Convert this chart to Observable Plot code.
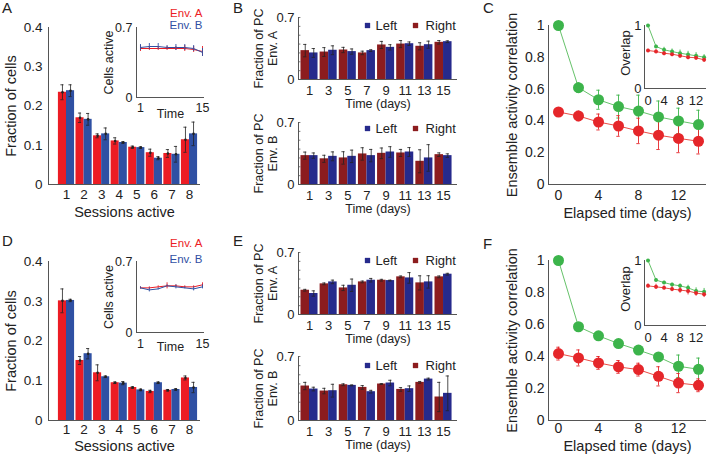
<!DOCTYPE html>
<html><head><meta charset="utf-8">
<script src="https://cdn.jsdelivr.net/npm/d3@7"></script>
<script src="https://cdn.jsdelivr.net/npm/@observablehq/plot@0.6"></script>
<style>
html,body{margin:0;padding:0;background:#fff;}
#fig{position:relative;width:708px;height:457px;overflow:hidden;font-family:'Liberation Sans',Arial,sans-serif;background:#fff;}
.letter{position:absolute;font-size:15px;line-height:15px;color:#222;}
</style></head><body><div id="fig"></div>
<script>
// ---------- data ----------
const sessions = [1,2,3,4,5,6,7,8];
const aEnvA    = [0.235,0.170,0.124,0.111,0.095,0.081,0.079,0.114];
const aEnvAErr = [0.019,0.012,0.005,0.008,0.003,0.009,0.010,0.032];
const aEnvB    = [0.239,0.166,0.129,0.107,0.094,0.067,0.077,0.129];
const aEnvBErr = [0.015,0.015,0.015,0.002,0.002,0.004,0.020,0.030];
const dEnvA    = [0.301,0.151,0.120,0.095,0.083,0.073,0.076,0.107];
const dEnvAErr = [0.030,0.010,0.020,0.002,0.002,0.003,0.002,0.005];
const dEnvB    = [0.302,0.168,0.110,0.094,0.077,0.095,0.078,0.083];
const dEnvBErr = [0.003,0.013,0.002,0.004,0.002,0.002,0.002,0.013];

const insetTimes = [1,3,5,7,9,11,13,15];
const aInsetA    = [0.49,0.49,0.49,0.49,0.49,0.49,0.48,0.46];
const aInsetAErr = [0.03,0.02,0.02,0.02,0.02,0.03,0.03,0.05];
const aInsetB    = [0.50,0.51,0.51,0.50,0.50,0.50,0.49,0.45];
const aInsetBErr = [0.03,0.03,0.03,0.02,0.03,0.03,0.03,0.04];
const dInsetA    = [0.44,0.44,0.45,0.46,0.46,0.45,0.45,0.47];
const dInsetAErr = [0.01,0.01,0.01,0.03,0.01,0.01,0.01,0.02];
const dInsetB    = [0.44,0.42,0.43,0.46,0.45,0.44,0.43,0.45];
const dInsetBErr = [0.01,0.02,0.01,0.01,0.02,0.01,0.02,0.02];

const days = [1,3,5,7,9,11,13,15];
const bARight    = [0.326,0.310,0.333,0.300,0.390,0.400,0.375,0.420];
const bARightErr = [0.070,0.050,0.030,0.020,0.040,0.040,0.040,0.020];
const bALeft     = [0.300,0.330,0.315,0.326,0.363,0.404,0.393,0.427];
const bALeftErr  = [0.050,0.050,0.030,0.010,0.030,0.020,0.040,0.010];
const bBRight    = [0.326,0.290,0.300,0.345,0.352,0.356,0.262,0.337];
const bBRightErr = [0.040,0.040,0.070,0.070,0.060,0.040,0.130,0.020];
const bBLeft     = [0.326,0.318,0.318,0.326,0.367,0.367,0.300,0.326];
const bBLeftErr  = [0.030,0.050,0.070,0.070,0.060,0.050,0.150,0.020];
const eARight    = [0.274,0.346,0.300,0.368,0.387,0.425,0.357,0.425];
const eARightErr = [0.010,0.010,0.030,0.010,0.010,0.010,0.080,0.010];
const eALeft     = [0.237,0.368,0.330,0.387,0.383,0.413,0.368,0.455];
const eALeftErr  = [0.030,0.020,0.070,0.020,0.005,0.060,0.070,0.010];
const eBRight    = [0.377,0.322,0.391,0.362,0.399,0.340,0.417,0.257];
const eBRightErr = [0.040,0.030,0.010,0.020,0.005,0.020,0.010,0.160];
const eBLeft     = [0.344,0.326,0.384,0.315,0.410,0.348,0.453,0.297];
const eBLeftErr  = [0.020,0.070,0.005,0.015,0.030,0.030,0.010,0.190];

const elapsed = [0,2,4,6,8,10,12,14];
const cGreen    = [1.000,0.609,0.533,0.490,0.462,0.425,0.400,0.377];
const cGreenErr = [0.000,0.030,0.060,0.072,0.100,0.100,0.080,0.090];
const cRed      = [0.456,0.431,0.393,0.368,0.337,0.310,0.290,0.272];
const cRedErr   = [0.020,0.030,0.050,0.065,0.080,0.090,0.090,0.080];
const fGreen    = [1.000,0.586,0.529,0.481,0.440,0.397,0.339,0.320];
const fGreenErr = [0.000,0.010,0.010,0.010,0.010,0.010,0.070,0.070];
const fRed      = [0.418,0.391,0.360,0.335,0.318,0.276,0.234,0.220];
const fRedErr   = [0.040,0.050,0.040,0.040,0.040,0.060,0.060,0.040];
const cInsetGreen    = [1.000,0.667,0.614,0.587,0.560,0.540,0.519,0.497];
const cInsetGreenErr = [0.000,0.020,0.040,0.040,0.050,0.050,0.050,0.040];
const cInsetRed      = [0.603,0.587,0.560,0.545,0.520,0.497,0.487,0.455];
const cInsetRedErr   = [0.020,0.030,0.040,0.040,0.040,0.040,0.040,0.040];
const fInsetGreen    = [1.000,0.700,0.660,0.630,0.610,0.580,0.530,0.520];
const fInsetGreenErr = [0.000,0.020,0.020,0.020,0.030,0.040,0.050,0.050];
const fInsetRed      = [0.610,0.595,0.580,0.560,0.545,0.530,0.500,0.480];
const fInsetRedErr   = [0.030,0.040,0.030,0.040,0.050,0.060,0.050,0.050];

// ---------- style ----------
const FONT = "'Liberation Sans', Arial, Helvetica, sans-serif";
const INK = "#222", AXIS = "#555";
const RED = "#ec1c24", BLUE = "#2f50a3";
const DRED = "#8c1c1e", NAVY = "#262a8c";
const GREEN = "#3cb44b", GREENLINE = "#66c26a", CRED = "#e5262a", CREDLINE = "#ea4b45";
const fig = document.getElementById("fig");
function place(el, left, top) {
  el.style.position = "absolute"; el.style.left = left + "px"; el.style.top = top + "px";
  fig.appendChild(el);
}
function st(size) { return {background:"transparent", fontFamily:FONT, fontSize:size+"px", color:INK, overflow:"visible"}; }
const rows = (xs, vs, es) => xs.map((x,i) => ({x, v:vs[i], e:es[i]}));
function errMarks(data, off, color, cap, sw) {
  const caps = data.flatMap(d => [{x:d.x, y:d.v-d.e}, {x:d.x, y:d.v+d.e}]);
  const m = [Plot.ruleX(data, {x:d=>d.x+off, y1:d=>d.v-d.e, y2:d=>d.v+d.e, stroke:color, strokeWidth:sw})];
  if (cap > 0) m.push(Plot.ruleY(caps, {y:"y", x1:d=>d.x+off-cap, x2:d=>d.x+off+cap, stroke:color, strokeWidth:sw}));
  return m;
}
const fmt = d => (d === 0 || d === 1) ? String(d) : d.toFixed(1);
function label(txt, opts) {
  return Plot.text([txt], {text:d=>d, textAnchor:"middle", lineAnchor:"middle", fill:INK, ...opts});
}

// ---------- A / D main ----------
function sessionsMain(top, mb, vA, eA, vB, eB, tickPad, labelDy) {
  const BW = 0.46, xd = [-0.024, 8.626];
  const ra = rows(sessions, vA, eA), rb = rows(sessions, vB, eB);
  place(Plot.plot({
    width:230, height:228, marginLeft:48, marginRight:30, marginTop:27, marginBottom:mb,
    style:st(13.5), x:{type:"linear", domain:xd}, y:{domain:[0,0.4]},
    marks:[
      Plot.rect(ra, {x1:d=>d.x-BW, x2:"x", y1:0, y2:"v", fill:RED}),
      Plot.rect(rb, {x1:"x", x2:d=>d.x+BW, y1:0, y2:"v", fill:BLUE}),
      ...errMarks(ra, -BW/2, INK, 0.09, 0.8),
      ...errMarks(rb, BW/2, INK, 0.09, 0.8),
      Plot.dot(ra, {x:d=>d.x-BW/2, y:"v", r:1.3, fill:INK}),
      Plot.dot(rb, {x:d=>d.x+BW/2, y:"v", r:1.3, fill:INK}),
      Plot.ruleX([xd[0]], {stroke:AXIS}),
      Plot.ruleY([0], {stroke:AXIS}),
      Plot.axisY({ticks:[0,0.1,0.2,0.3,0.4], tickSize:0, tickPadding:6, tickFormat:fmt, label:null}),
      Plot.axisX({ticks:sessions, tickSize:0, tickPadding:tickPad, label:null}),
      label("Sessions active", {frameAnchor:"bottom", dy:labelDy, fontSize:14.5}),
      label("Fraction of cells", {frameAnchor:"left", rotate:-90, dx:-37, fontSize:14.5})
    ]}), 0, top);
}
function sessionsInset(top, mb, vA, eA, vB, eB, legA, legB, tickPad, labelDy) {
  const xd = [0.097, 15.45];
  const ra = rows(insetTimes, vA, eA), rb = rows(insetTimes, vB, eB);
  place(Plot.plot({
    width:115, height:125, marginLeft:41, marginRight:6, marginTop:27, marginBottom:mb,
    style:st(12.5), x:{type:"linear", domain:xd}, y:{domain:[0,0.7]},
    marks:[
      Plot.line(ra, {x:"x", y:"v", stroke:RED, strokeWidth:1}),
      Plot.line(rb, {x:"x", y:"v", stroke:BLUE, strokeWidth:1}),
      ...errMarks(ra, 0, RED, 0, 0.9),
      ...errMarks(rb, 0, BLUE, 0, 0.9),
      Plot.ruleX([xd[0]], {stroke:AXIS}),
      Plot.ruleY([0], {stroke:AXIS}),
      Plot.axisY({ticks:[0,0.7], tickSize:0, tickPadding:4, tickFormat:fmt, label:null}),
      Plot.axisX({ticks:[1,15], tickSize:0, tickPadding:tickPad, label:null}),
      label("Time", {frameAnchor:"bottom", dy:labelDy}),
      label("Cells active", {frameAnchor:"left", rotate:-90, dx:-28}),
      label("Env. A", {frameAnchor:"top-right", textAnchor:"end", dx:-2, dy:legA, fill:RED, fontSize:11.5}),
      label("Env. B", {frameAnchor:"top-right", textAnchor:"end", dx:-2, dy:legB, fill:BLUE, fontSize:11.5})
    ]}), 95, top);
}

// ---------- B / E ----------
function pcPanel(top, frameH, envLabel, vR, eR, vL, eL, legDy) {
  const BW = 0.89, xd = [-0.149, 16.46];
  const rr = rows(days, vR, eR), rl = rows(days, vL, eL);
  const minor = [0.1,0.2,0.3,0.4,0.5,0.6,0.7];
  place(Plot.plot({
    width:230, height:17+frameH+35, marginLeft:68, marginRight:3, marginTop:17, marginBottom:35,
    style:st(13), x:{type:"linear", domain:xd}, y:{domain:[0,0.7]},
    marks:[
      Plot.rect(rr, {x1:d=>d.x-BW, x2:"x", y1:0, y2:"v", fill:DRED}),
      Plot.rect(rl, {x1:"x", x2:d=>d.x+BW, y1:0, y2:"v", fill:NAVY}),
      ...errMarks(rr, -BW/2, INK, 0.17, 0.8),
      ...errMarks(rl, BW/2, INK, 0.17, 0.8),
      Plot.ruleX([xd[0]], {stroke:AXIS}),
      Plot.ruleY([0], {stroke:AXIS}),
      Plot.ruleY(minor, {x1:xd[0], x2:xd[0]+0.25, stroke:AXIS, strokeWidth:0.8}),
      Plot.axisY({ticks:[0,0.7], tickSize:0, tickPadding:4, tickFormat:fmt, label:null}),
      Plot.axisX({ticks:days, tickSize:0, tickPadding:6, label:null}),
      label("Time (days)", {frameAnchor:"bottom", dy:24, fontSize:12.5}),
      label("Fraction of PC", {frameAnchor:"left", rotate:-90, dx:-40, fontSize:12.5}),
      label(envLabel, {frameAnchor:"left", rotate:-90, dx:-26, fontSize:12.5}),
      Plot.dot([0], {frameAnchor:"top-left", dx:69, dy:legDy, symbol:"square", r:3, fill:NAVY}),
      label("Left", {frameAnchor:"top-left", dx:77, dy:legDy, textAnchor:"start"}),
      Plot.dot([0], {frameAnchor:"top-left", dx:117, dy:legDy, symbol:"square", r:3, fill:DRED}),
      label("Right", {frameAnchor:"top-left", dx:127, dy:legDy, textAnchor:"start"})
    ]}), 230, top);
}

// ---------- C / F ----------
function corrMain(top, mb, g, ge, r, re, tickPad, labelDy) {
  const xd = [-1, 14.8];
  const rg = rows(elapsed, g, ge), rr = rows(elapsed, r, re);
  place(Plot.plot({
    width:238, height:228, marginLeft:78, marginRight:2, marginTop:25, marginBottom:mb,
    style:st(14), x:{type:"linear", domain:xd}, y:{domain:[0,1]},
    marks:[
      Plot.line(rg, {x:"x", y:"v", stroke:GREENLINE, strokeWidth:1}),
      Plot.line(rr, {x:"x", y:"v", stroke:CREDLINE, strokeWidth:1}),
      ...errMarks(rg, 0, GREEN, 0.17, 0.9),
      ...errMarks(rr, 0, CRED, 0.17, 0.9),
      Plot.dot(rg, {x:"x", y:"v", r:5.5, fill:GREEN}),
      Plot.dot(rr, {x:"x", y:"v", r:5.5, fill:CRED}),
      Plot.ruleX([xd[0]], {stroke:AXIS}),
      Plot.ruleY([0], {stroke:AXIS}),
      Plot.axisY({ticks:[0,0.2,0.4,0.6,0.8,1], tickSize:0, tickPadding:4, tickFormat:fmt, label:null}),
      Plot.axisX({ticks:[0,4,8,12], tickSize:0, tickPadding:tickPad, label:null}),
      label("Elapsed time (days)", {frameAnchor:"bottom", dy:labelDy, fontSize:14.5}),
      label("Ensemble activity correlation", {frameAnchor:"left", rotate:-90, dx:-36, fontSize:14.5})
    ]}), 470, top);
}
function corrInset(top, frameH, g, ge, r, re) {
  const xd = [-0.875, 14.6];
  const rg = rows(elapsed, g, ge), rr = rows(elapsed, r, re);
  place(Plot.plot({
    width:108, height:25+frameH+22, marginLeft:44, marginRight:2, marginTop:25, marginBottom:22,
    style:st(13), x:{type:"linear", domain:xd}, y:{domain:[0,1]},
    marks:[
      Plot.line(rg, {x:"x", y:"v", stroke:GREENLINE, strokeWidth:1}),
      Plot.line(rr, {x:"x", y:"v", stroke:CREDLINE, strokeWidth:1}),
      ...errMarks(rg, 0, GREEN, 0, 0.9),
      ...errMarks(rr, 0, CRED, 0, 0.9),
      Plot.dot(rg, {x:"x", y:"v", r:2, fill:GREEN}),
      Plot.dot(rr, {x:"x", y:"v", r:2, fill:CRED}),
      Plot.ruleX([xd[0]], {stroke:AXIS}),
      Plot.ruleY([0], {stroke:AXIS}),
      Plot.axisY({ticks:[0,1], tickSize:0, tickPadding:3, tickFormat:fmt, label:null}),
      Plot.axisX({ticks:[0,4,8,12], tickSize:0, tickPadding:7, label:null}),
      label("Overlap", {frameAnchor:"left", rotate:-90, dx:-19, dy:-4})
    ]}), 600, top);
}

sessionsMain(0, 44, aEnvA, aEnvAErr, aEnvB, aEnvBErr, 5, 28);
sessionsInset(0, 28, aInsetA, aInsetAErr, aInsetB, aInsetBErr, -14, -2, 6, 16);
sessionsMain(234, 42, dEnvA, dEnvAErr, dEnvB, dEnvBErr, 4, 26);
sessionsInset(234, 27, dInsetA, dInsetAErr, dInsetB, dInsetBErr, -18, -2, 7, 14);
pcPanel(0, 62, "Env. A", bARight, bARightErr, bALeft, bALeftErr, 8);
pcPanel(105, 62, "Env. B", bBRight, bBRightErr, bBLeft, bBLeftErr, 6);
pcPanel(235, 62, "Env. A", eARight, eARightErr, eALeft, eALeftErr, 8);
pcPanel(339, 64, "Env. B", eBRight, eBRightErr, eBLeft, eBLeftErr, 9);
corrMain(0, 44, cGreen, cGreenErr, cRed, cRedErr, 6, 29);
corrInset(0, 63, cInsetGreen, cInsetGreenErr, cInsetRed, cInsetRedErr);
corrMain(235, 43, fGreen, fGreenErr, fRed, fRedErr, 3, 26);
corrInset(235, 65, fInsetGreen, fInsetGreenErr, fInsetRed, fInsetRedErr);

[["A",2,0],["B",233,0],["C",483,0],["D",2,233],["E",233,233],["F",483,236]].forEach(([t,l,tp]) => {
  const d = document.createElement("div"); d.className = "letter"; d.textContent = t;
  d.style.left = l + "px"; d.style.top = tp + "px"; fig.appendChild(d);
});
</script></body></html>
